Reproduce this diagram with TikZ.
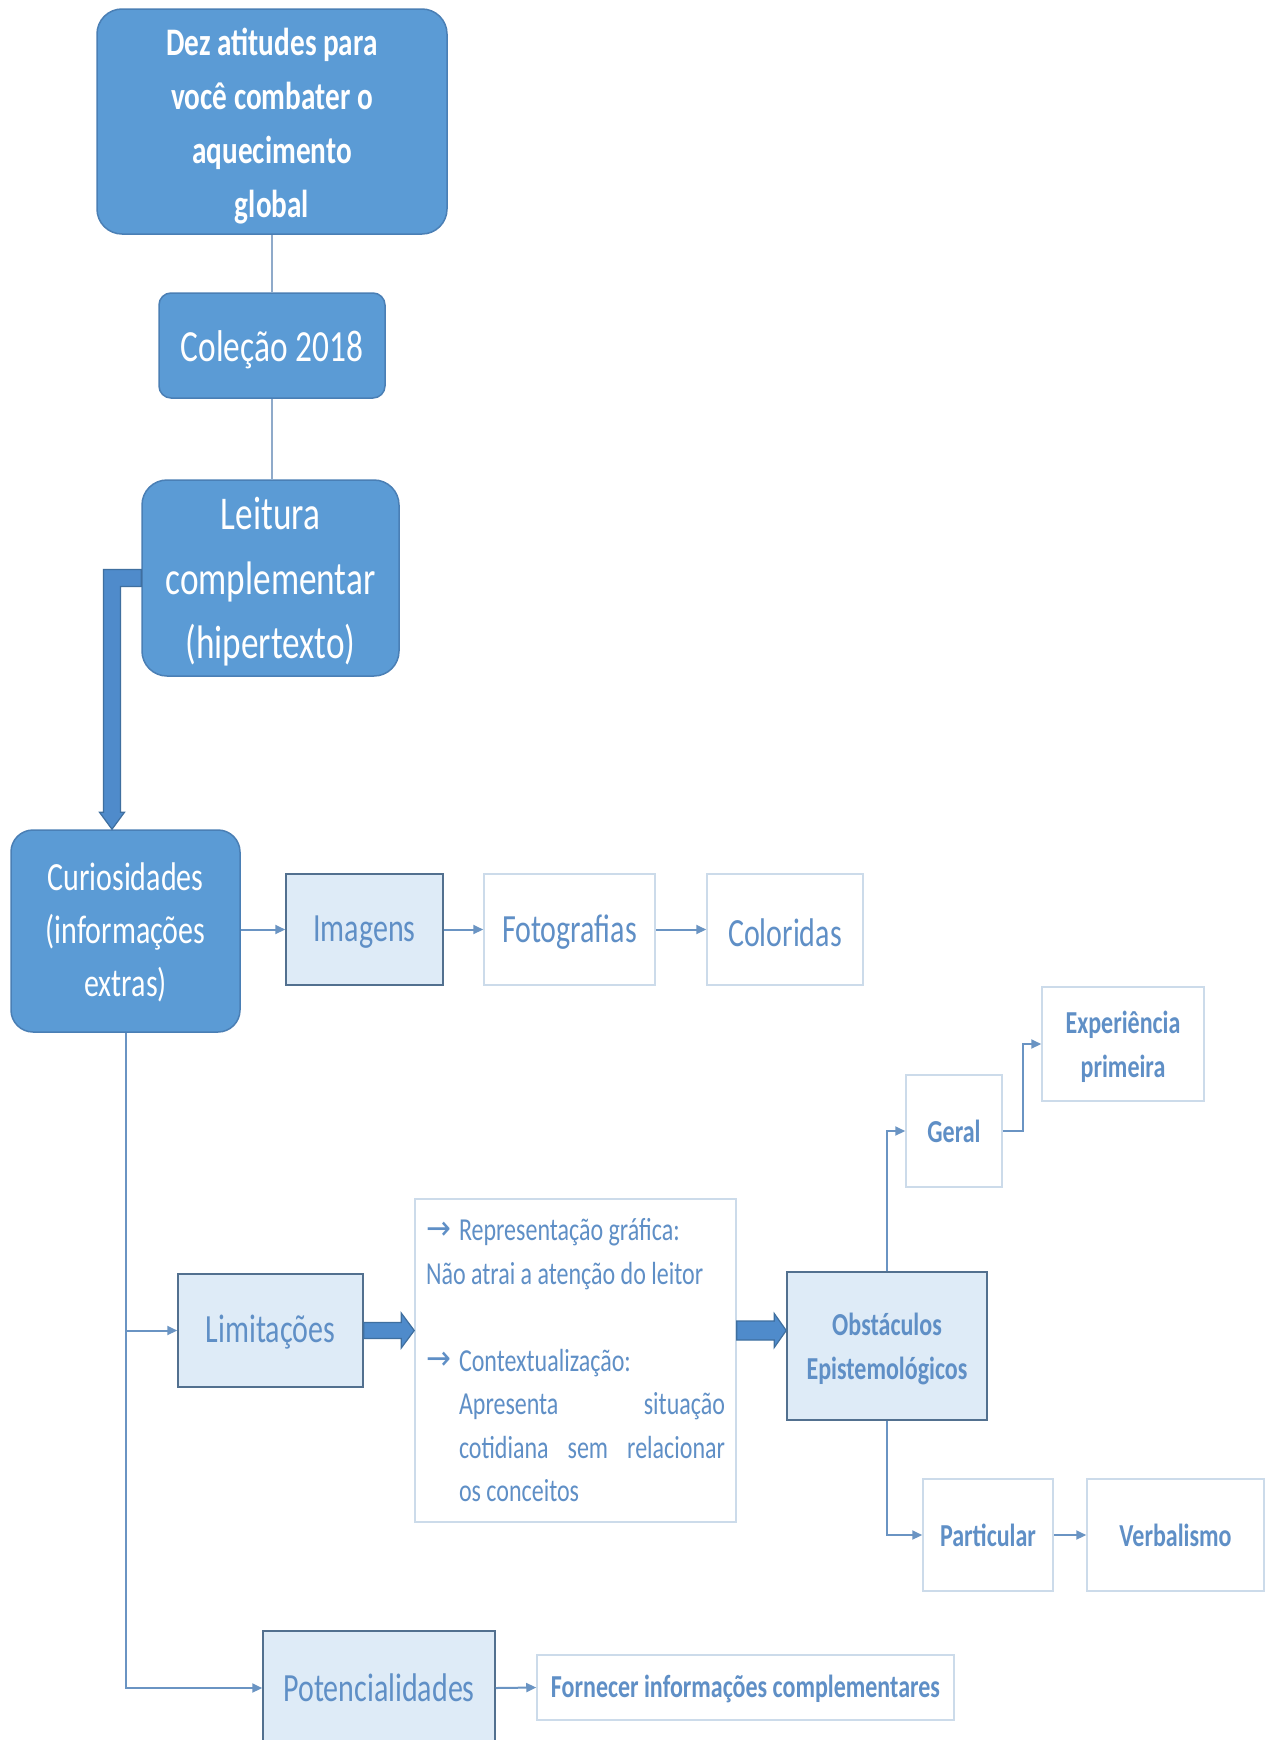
\documentclass[tikz,border=0pt]{standalone}
\usepackage{fontspec}
\setmainfont{Carlito}[FakeStretch=0.75]
\newfontfamily\arrowfont{DejaVu Sans}[FakeStretch=0.9]
\usetikzlibrary{arrows.meta,calc}

\definecolor{darkfill}{HTML}{5B9BD5}
\definecolor{darkline}{HTML}{4A7FB5}
\definecolor{lightfill}{HTML}{DEEBF7}
\definecolor{lightline}{HTML}{52708F}
\definecolor{paleline}{HTML}{CCDBEA}
\definecolor{txtblue}{HTML}{5F8FC6}
\definecolor{connblue}{HTML}{6A94C3}
\definecolor{stemline}{HTML}{8FAACA}
\definecolor{fatfill}{HTML}{4F8BCB}
\definecolor{fatline}{HTML}{3F6F9F}

\tikzset{
  darkbox/.style={draw=darkline, fill=darkfill, rounded corners=#1, text=white,
    line width=1.5pt, inner sep=0pt, align=center},
  darkbox/.default=22pt,
  lightbox/.style={draw=lightline, fill=lightfill, line width=1.5pt, text=txtblue,
    inner sep=0pt, align=center},
  whitebox/.style={draw=paleline, fill=white, line width=1.5pt, text=txtblue,
    inner sep=0pt, align=center},
  stem/.style={draw=stemline, line width=1.5pt},
  conn/.style={draw=connblue, line width=2pt,
    -{Triangle[length=10pt,width=9pt]}},
  fat/.style={draw=fatline, fill=fatfill, line width=1.2pt, line join=miter},
  bigtxt/.style={font=\fontsize{40}{53}\selectfont},
  boldtxt/.style={font=\bfseries\fontsize{32}{44}\selectfont},
}

% horizontal block arrow: from, to, band half height, head half height, head length
\newcommand\fatarrowh[5]{%
  \draw[fat] ($(#1)+(0,-#3)$) -- ($(#2)+(-#5,-#3)$) -- ($(#2)+(-#5,-#4)$) -- (#2)
    -- ($(#2)+(-#5,#4)$) -- ($(#2)+(-#5,#3)$) -- ($(#1)+(0,#3)$) -- cycle;}
\newcommand\bulletarrow{\makebox[33pt][l]{\raisebox{1.5pt}{\arrowfont\fontsize{33}{33}\selectfont →}}}
% lower a line of text inside its box without changing the box size
\newcommand\dl[2][4]{\raisebox{-#1pt}[\height][\depth]{#2}}

\begin{document}
\begin{tikzpicture}[x=1pt,y=-1pt]
\clip (0,0) rectangle (1267,1740);
\fill[white] (0,0) rectangle (1267,1740);

% upper chain
\node[darkbox=25pt, minimum width=350pt, minimum height=225pt,
  font=\bfseries\fontsize{39}{54}\selectfont] (dez) at (272,121.5)
  {\dl[4.5]{Dez atitudes para}\\\dl[4.5]{você combater o}\\\dl[4.5]{aquecimento}\\\dl[4.5]{global}};
\node[darkbox=12pt, minimum width=226pt, minimum height=105pt,
  font=\fontsize{44.5}{50}\selectfont] (col) at (272,345.5) {\dl[4.5]{Coleção 2018}};
\node[darkbox=25pt, minimum width=257pt, minimum height=196pt,
  font=\fontsize{47}{64.5}\selectfont] (lei) at (270.5,578)
  {\dl{Leitura}\\\dl{complementar}\\\dl{(hipertexto)}};
\node[darkbox=22pt, minimum width=229pt, minimum height=202pt, bigtxt] (cur) at (125.5,931)
  {\dl[1]{Curiosidades}\\\dl[1]{(informações}\\\dl[1]{extras)}};

\draw[stem] (dez.south -| col.north) -- (col.north);
\draw[stem] (col.south) -- (col.south |- lei.north);

% image branch
\node[lightbox, minimum width=157pt, minimum height=111pt, bigtxt] (img) at (364.5,929.5) {\dl[3]{Imagens}};
\node[whitebox, minimum width=171pt, minimum height=111pt, bigtxt] (fot) at (569.5,929.5) {\dl[3]{Fotografias}};
\node[whitebox, minimum width=156pt, minimum height=111pt, bigtxt] (clr) at (785,929.5) {\dl[3]{Coloridas}};

% limitations branch
\node[lightbox, minimum width=185pt, minimum height=113pt, bigtxt] (lim) at (270.5,1330.5) {\dl[2]{Limitações}};
\node[whitebox, minimum width=321pt, minimum height=323pt, align=left,
  font=\fontsize{32}{43.5}\selectfont] (tb) at (575.5,1360.5)
  {\bulletarrow Representação gráfica:\\
   Não atrai a atenção do leitor\\[43.5pt]
   \bulletarrow Contextualização:\\
   \hspace*{33pt}\makebox[266pt][l]{Apresenta\hfill situação}\\
   \hspace*{33pt}\makebox[266pt][l]{cotidiana\hfill sem\hfill relacionar}\\
   \hspace*{33pt}os conceitos};
\node[lightbox, minimum width=200pt, minimum height=148pt, boldtxt] (obs) at (887,1346)
  {\dl[3]{Obstáculos}\\\dl[3]{Epistemológicos}};
\node[whitebox, minimum width=96pt, minimum height=112pt, boldtxt] (ger) at (954,1131) {Geral};
\node[whitebox, minimum width=162pt, minimum height=114pt, boldtxt] (exp) at (1123,1044)
  {\dl[3]{Experiência}\\\dl[3]{primeira}};
\node[whitebox, minimum width=130pt, minimum height=112pt, boldtxt] (par) at (988,1535) {Particular};
\node[whitebox, minimum width=177pt, minimum height=112pt, boldtxt] (ver) at (1175.5,1535) {Verbalismo};

% potentialities branch
\node[lightbox, minimum width=232pt, minimum height=114pt, bigtxt] (pot) at (379,1688) {Potencialidades};
\node[whitebox, minimum width=417pt, minimum height=65pt, boldtxt] (for) at (745.5,1687.5)
  {\dl[1]{Fornecer informações complementares}};

% thin connectors
\draw[conn] (cur.east |- img.west) -- (img.west);
\draw[conn] (img.east) -- (fot.west);
\draw[conn] (fot.east) -- (clr.west);
\draw[conn] (cur.south) |- (lim.west);
\draw[conn] (cur.south) |- (pot.west);
\draw[conn] (pot.east) -- (for.west);
\draw[conn] (obs.north) |- (ger.west);
\draw[conn] (ger.east) -- ++(20,0) |- (exp.west);
\draw[conn] (obs.south) |- (par.west);
\draw[conn] (par.east) -- (ver.west);

% block arrows
\coordinate (elbow) at (112,578);
\coordinate (tip) at (elbow |- cur.north);
\draw[fat] ($(lei.west)+(0,-8.5)$) -- ($(elbow)+(-8.5,-8.5)$) -- ($(tip)+(-8.5,-17)$)
  -- ($(tip)+(-12.5,-17)$) -- (tip) -- ($(tip)+(12.5,-17)$) -- ($(tip)+(8.5,-17)$)
  -- ($(elbow)+(8.5,8.5)$) -- ($(lei.west)+(0,8.5)$) -- cycle;
\coordinate (f1b) at (tb.west |- lim.east);
\fatarrowh{lim.east}{f1b}{8}{17.5}{13}
\coordinate (f2a) at (tb.east |- lim.east);
\coordinate (f2b) at (obs.west |- lim.east);
\fatarrowh{f2a}{f2b}{9.5}{17}{12}
\end{tikzpicture}
\end{document}
